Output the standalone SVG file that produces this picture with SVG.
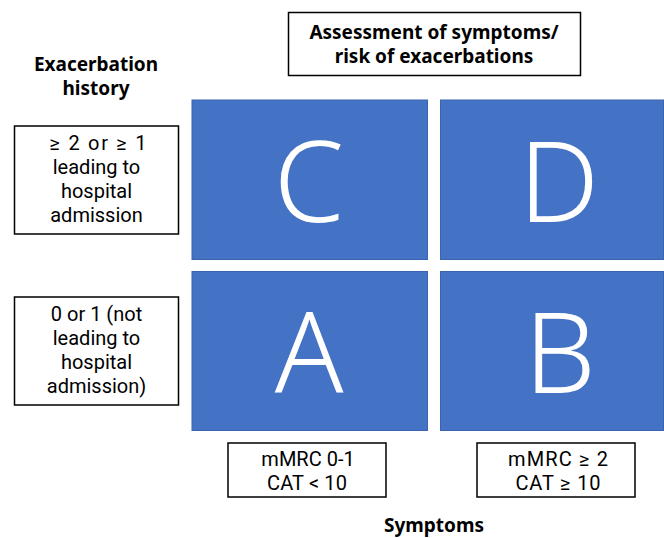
<svg xmlns="http://www.w3.org/2000/svg" width="664" height="538" viewBox="0 0 664 538">
<style>
.box{fill:#fff;stroke:#000;stroke-width:1.5}
.q{fill:#4472C4;stroke:#3A64AE;stroke-width:1}
.t{font-family:Roboto,"Noto Sans",sans-serif;font-size:20px;fill:#000;text-anchor:middle}
.b{font-family:"Noto Sans","Open Sans",sans-serif;font-weight:bold;font-size:19px}
.L{font-family:"Noto Sans","Open Sans",sans-serif;font-size:113px;font-weight:300;fill:#fff;text-anchor:middle}
</style>
<rect width="664" height="538" fill="#fff"/>
<g id="title">
<rect class="box" x="288.5" y="12.5" width="292" height="63"/>
<text class="t b" x="434" y="39">Assessment of symptoms/</text>
<text class="t b" x="434" y="63">risk of exacerbations</text>
</g>
<g id="exhist">
<text class="t b" x="96" y="71">Exacerbation</text>
<text class="t b" x="96" y="95">history</text>
</g>
<g id="ex-high">
<rect class="box" x="14.5" y="126" width="164" height="108"/>
<text class="t" x="98" y="150" textLength="97" lengthAdjust="spacing">≥ 2 or ≥ 1</text>
<text class="t" x="96.5" y="174">leading to</text>
<text class="t" x="96.5" y="198">hospital</text>
<text class="t" x="96.5" y="222">admission</text>
</g>
<g id="ex-low">
<rect class="box" x="14.5" y="297" width="164" height="108"/>
<text class="t" x="96.5" y="321">0 or 1 (not</text>
<text class="t" x="96.5" y="345">leading to</text>
<text class="t" x="96.5" y="369">hospital</text>
<text class="t" x="96.5" y="393">admission)</text>
</g>
<g id="C"><rect class="q" x="192" y="100" width="235.5" height="159.5"/><text class="L" x="309" y="222">C</text></g>
<g id="D"><rect class="q" x="440.5" y="100" width="223" height="159.5"/><text class="L" x="559" y="222">D</text></g>
<g id="A"><rect class="q" x="192" y="271.5" width="235.5" height="159"/><text class="L" x="309" y="393">A</text></g>
<g id="B"><rect class="q" x="440.5" y="271.5" width="223" height="159"/><text class="L" x="560" y="393">B</text></g>
<g id="sym-low">
<rect class="box" x="228" y="443" width="158" height="54"/>
<text class="t" x="308" y="466">mMRC 0-1</text>
<text class="t" x="307" y="490" textLength="80" lengthAdjust="spacing">CAT &lt; 10</text>
</g>
<g id="sym-high">
<rect class="box" x="477" y="443" width="158" height="54"/>
<text class="t" x="558" y="466" textLength="100" lengthAdjust="spacing">mMRC ≥ 2</text>
<text class="t" x="558" y="490" textLength="85" lengthAdjust="spacing">CAT ≥ 10</text>
</g>
<g id="symptoms">
<text class="t b" x="434" y="532">Symptoms</text>
</g>
<g id="connectors"></g>
</svg>
